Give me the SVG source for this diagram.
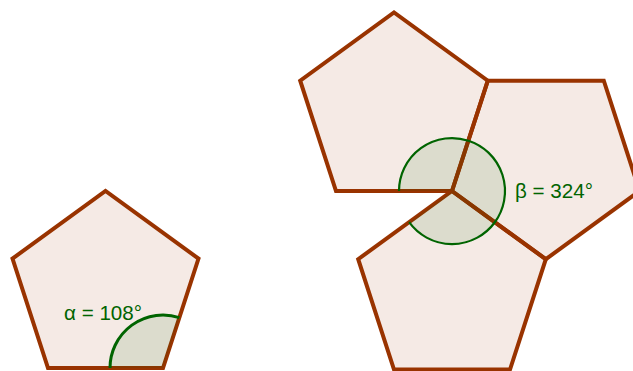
<svg xmlns="http://www.w3.org/2000/svg" width="633" height="371" viewBox="0 0 633 371">
  <style>
    .pent { fill: #993300; fill-opacity: 0.1; stroke: #993300; stroke-width: 4; stroke-linejoin: miter; }
    .angle { fill: #006400; fill-opacity: 0.1; stroke: none; }
    .arc { fill: none; stroke: #006400; }
    .lbl { font-family: "Liberation Sans", Arial, sans-serif; font-size: 20.6px; fill: #006400; }
  </style>
  <rect width="633" height="371" fill="#ffffff"/>
  <g id="pentagon-left">
    <polygon class="pent" points="48,368 163,368 198.5,258.6 105.5,191 12.5,258.6"/>
  </g>
  <g id="pentagon-top">
    <polygon class="pent" points="336,191 452,191 487.8,80.7 394,12.5 300.2,80.7"/>
  </g>
  <g id="pentagon-right">
    <polygon class="pent" points="452,191 487.8,80.7 603.8,80.7 639.6,191 545.8,259.2"/>
  </g>
  <g id="pentagon-bottom">
    <polygon class="pent" points="452,191 545.8,259.2 510,369.5 394,369.5 358.2,259.2"/>
  </g>
  <g id="angle-alpha">
    <path class="angle" d="M163,368 L110,368 A53,53 0 0 1 179.4,317.6 Z"/>
    <path class="arc" stroke-width="3" d="M110,368 A53,53 0 0 1 179.4,317.6"/>
    <text class="lbl" x="64" y="320">α = 108°</text>
  </g>
  <g id="angle-beta">
    <path class="angle" d="M452,191 L399,191 A53,53 0 1 1 409.1,222.2 Z"/>
    <path class="arc" stroke-width="2.2" d="M399,191 A53,53 0 1 1 409.1,222.2"/>
    <text class="lbl" x="515" y="198">β = 324°</text>
  </g>
</svg>
